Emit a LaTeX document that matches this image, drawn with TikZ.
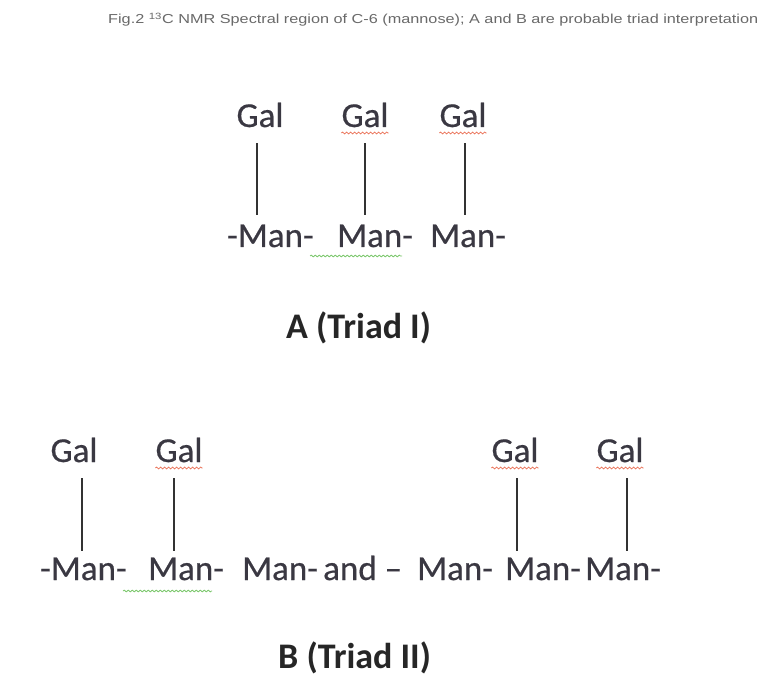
\documentclass[tikz,border=0pt]{standalone}
\usepackage{fontspec}
\usepackage{xcolor}
\usepackage{tikz}
\usetikzlibrary{positioning}
\usetikzlibrary{calc}
\usetikzlibrary{decorations.pathmorphing}
\newfontfamily\calib[FakeBold=0.5]{Carlito}
\newfontfamily\calibbf{Carlito Bold}
\newfontfamily\arialf{Liberation Sans}
\definecolor{txtgray}{RGB}{58,56,66}
\definecolor{capgray}{RGB}{105,105,105}
\definecolor{spellred}{RGB}{235,120,95}
\definecolor{spellgreen}{RGB}{125,200,110}

\begin{document}
\begin{tikzpicture}[x=1pt,y=-1pt,
        sugar/.style={font=\calib\fontsize{35}{42}\selectfont,text=txtgray,inner sep=0pt},
        triad/.style={font=\calibbf\fontsize{36}{43}\selectfont,text=black!85,inner sep=0pt,anchor=base west},
        bond/.style={line width=2.8pt,draw=black!80},
        redwave/.style={draw=spellred,line width=0.8pt,decorate,decoration={snake,amplitude=0.9pt,segment length=4pt}},
        greenwave/.style={draw=spellgreen,line width=0.8pt,decorate,decoration={snake,amplitude=0.9pt,segment length=4pt}}]
        \path[use as bounding box,fill=white] (0,0) rectangle (763,695);
        \node[inner sep=0pt,anchor=base west,text=capgray] (cap) at (108,24) {\scalebox{1.25}[1]{\arialf\fontsize{13}{15}\selectfont Fig.2 \textsuperscript{13}C NMR Spectral region of C-6 (mannose); A and B are probable triad interpretation}};

        \node[sugar,anchor=base] (gA1) at (260,127) {Gal};
        \node[sugar,anchor=base] (gA2) at (365,127) {Gal};
        \node[sugar,anchor=base] (gA3) at (463,127) {Gal};
        \node[sugar,anchor=base west] (mA1) at (227,247) {-Man-};
        \node[sugar,anchor=base west] (mA2) at (337,247) {Man-};
        \node[sugar,anchor=base west] (mA3) at (430,247) {Man-};
        \draw[bond,shorten <=16pt,shorten >=9pt,transform canvas={xshift=-3pt}] (gA1.south) -- (gA1.south |- mA1.north);
        \draw[bond,shorten <=16pt,shorten >=9pt] (gA2.south) -- (gA2.south |- mA2.north);
        \draw[bond,shorten <=16pt,shorten >=9pt,transform canvas={xshift=2pt}] (gA3.south) -- (gA3.south |- mA3.north);
        \draw[redwave] ($(gA2.base west)+(0,6)$) -- ($(gA2.base east)+(0,6)$);
        \draw[redwave] ($(gA3.base west)+(0,6)$) -- ($(gA3.base east)+(0,6)$);
        \draw[greenwave] ($(mA2.base west)+(-27,9)$) -- ($(mA2.base west)+(65,9)$);
        \node[triad] (labA) at (286,338) {A (Triad I)};

        \node[sugar,anchor=base] (gB1) at (74,462) {Gal};
        \node[sugar,anchor=base] (gB2) at (179,462) {Gal};
        \node[sugar,anchor=base] (gB3) at (515,462) {Gal};
        \node[sugar,anchor=base] (gB4) at (620,462) {Gal};
        \node[sugar,anchor=base west] (mB1) at (40,580) {-Man-};
        \node[sugar,anchor=base west] (mB2) at (148,580) {Man-};
        \node[sugar,anchor=base west] (mB3) at (242,580) {Man-};
        \node[sugar,anchor=base west] (andB) at (323,580) {and –};
        \node[sugar,anchor=base west] (mB4) at (417,580) {Man-};
        \node[sugar,anchor=base west] (mB5) at (505,580) {Man-};
        \node[sugar,anchor=base west] (mB6) at (585,580) {Man-};
        \draw[bond,shorten <=16pt,shorten >=6pt,transform canvas={xshift=8pt}] (gB1.south) -- (gB1.south |- mB1.north);
        \draw[bond,shorten <=16pt,shorten >=6pt,transform canvas={xshift=-5pt}] (gB2.south) -- (gB2.south |- mB2.north);
        \draw[bond,shorten <=16pt,shorten >=6pt,transform canvas={xshift=2pt}] (gB3.south) -- (gB3.south |- mB5.north);
        \draw[bond,shorten <=16pt,shorten >=6pt,transform canvas={xshift=7pt}] (gB4.south) -- (gB4.south |- mB6.north);
        \draw[redwave] ($(gB2.base west)+(0,6)$) -- ($(gB2.base east)+(0,6)$);
        \draw[redwave] ($(gB3.base west)+(0,6)$) -- ($(gB3.base east)+(0,6)$);
        \draw[redwave] ($(gB4.base west)+(0,6)$) -- ($(gB4.base east)+(0,6)$);
        \draw[greenwave] ($(mB2.base west)+(-25,11)$) -- ($(mB2.base west)+(64,11)$);
        \node[triad] (labB) at (278,668) {B (Triad II)};
    \end{tikzpicture}
\end{document}
